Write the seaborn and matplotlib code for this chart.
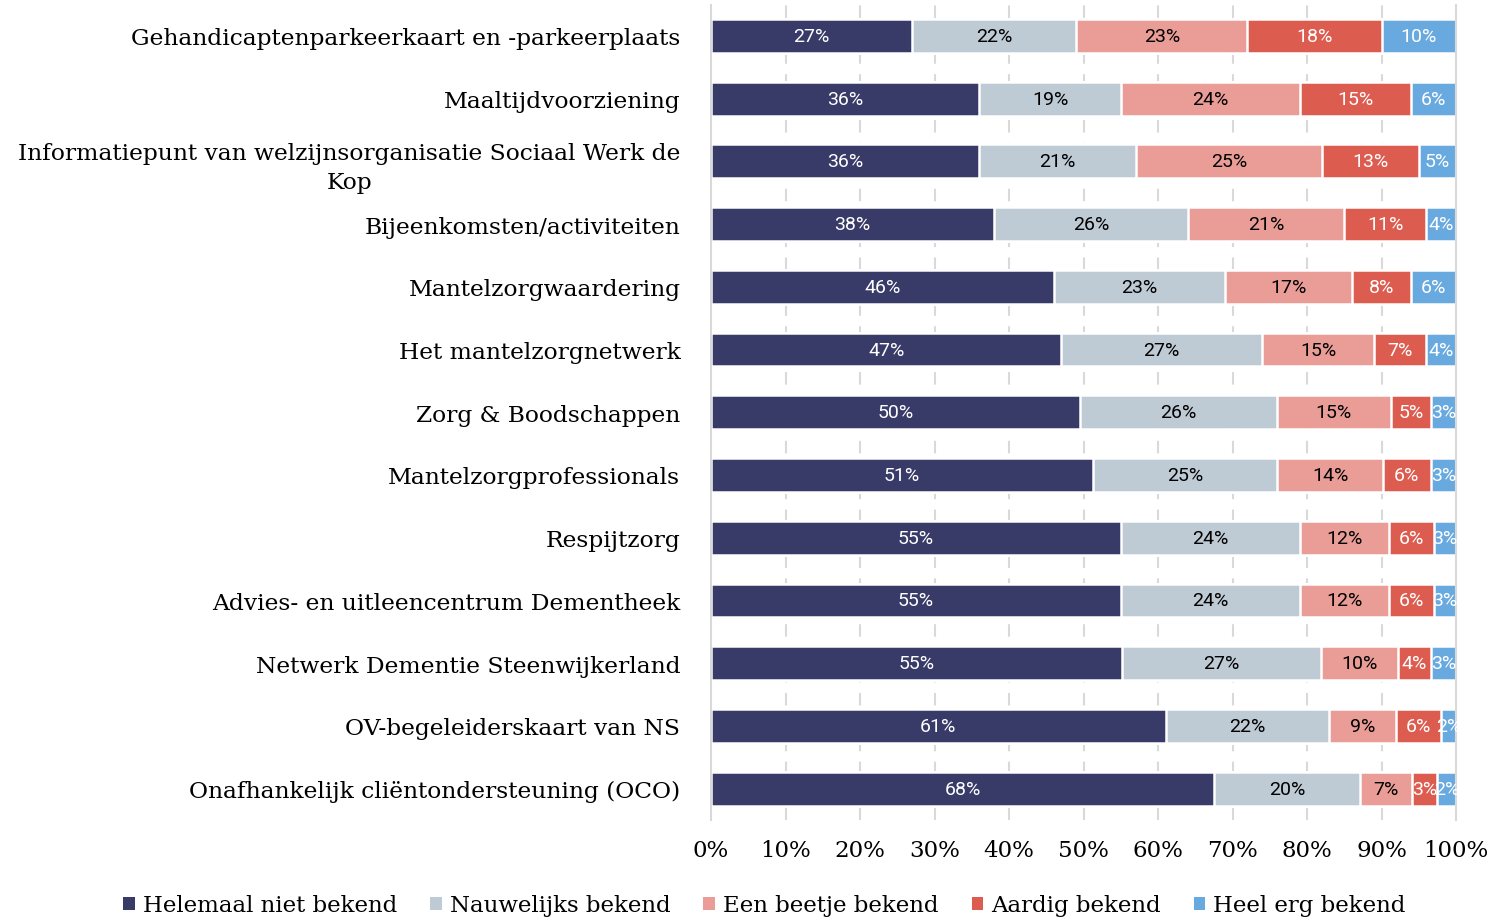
import numpy as np
import pandas as pd
import matplotlib.pyplot as plt
import seaborn as sns
from matplotlib.patches import Patch

# Data (percentages per service)
categories = [
    "Gehandicaptenparkeerkaart en -parkeerplaats",
    "Maaltijdvoorziening",
    "Informatiepunt van welzijnsorganisatie Sociaal Werk de\nKop",
    "Bijeenkomsten/activiteiten",
    "Mantelzorgwaardering",
    "Het mantelzorgnetwerk",
    "Zorg & Boodschappen",
    "Mantelzorgprofessionals",
    "Respijtzorg",
    "Advies- en uitleencentrum Dementheek",
    "Netwerk Dementie Steenwijkerland",
    "OV-begeleiderskaart van NS",
    "Onafhankelijk cliëntondersteuning (OCO)",
]
helemaal_niet = [27, 36, 36, 38, 46, 47, 49.5, 51.3, 55, 55, 55.2, 61, 67.5]
nauwelijks = [22, 19, 21, 26, 23, 27, 26.4, 24.7, 24, 24, 26.7, 22, 19.6]
een_beetje = [23, 24, 25, 21, 17, 15, 15.4, 14.2, 12, 12, 10.3, 9, 7.0]
aardig = [18, 15, 13, 11, 8, 7, 5.4, 6.4, 6, 6, 4.4, 6, 3.4]
heel_erg = [10, 6, 5, 4, 6, 4, 3.3, 3.4, 3, 3, 3.4, 2, 2.5]
series_names = ["Helemaal niet bekend", "Nauwelijks bekend", "Een beetje bekend",
                "Aardig bekend", "Heel erg bekend"]
colors = ["#383A68", "#BECAD4", "#EA9D97", "#DD5C50", "#68AADF"]
text_colors = ["white", "black", "black", "white", "white"]

df = pd.DataFrame({
    "categorie": categories,
    series_names[0]: helemaal_niet,
    series_names[1]: nauwelijks,
    series_names[2]: een_beetje,
    series_names[3]: aardig,
    series_names[4]: heel_erg,
})
vals = df[series_names].to_numpy(dtype=float)
cum = vals.cumsum(axis=1)

serif = ["DejaVu Serif"]
sans = ["Roboto", "DejaVu Sans"]

sns.set_theme(style="white")
fig = plt.figure(figsize=(14.96, 9.2), dpi=100)
ax = fig.add_axes([0.4753, 0.1076, 0.498, 0.8864])

# dashed vertical gridlines behind bars
for xv in range(10, 100, 10):
    ax.axvline(xv, color="#D9D9D9", lw=1.5, ls=(0, (6, 5)), zorder=0)

# stacked bars drawn as overlapping cumulative bars (largest first)
for i in range(len(series_names) - 1, -1, -1):
    sns.barplot(x=cum[:, i], y=df["categorie"], color=colors[i], orient="h",
                width=0.54, edgecolor="white", linewidth=1.8, ax=ax,
                saturation=1, zorder=2)

# segment labels
for r in range(len(categories)):
    for i in range(len(series_names)):
        left = cum[r, i] - vals[r, i]
        ax.text(left + vals[r, i] / 2, r, f"{vals[r, i]:.0f}%", ha="center",
                va="center", fontsize=14, color=text_colors[i], family=sans,
                zorder=3)

ax.set_xlim(0, 100)
ax.set_ylim(len(categories) - 0.5, -0.5)
ax.set_xticks(range(0, 101, 10))
ax.set_xticklabels([f"{t}%" for t in range(0, 101, 10)], family=serif,
                   fontsize=16.5, color="black")
ax.set_yticks(range(len(categories)))
ax.set_yticklabels(categories, family=serif, fontsize=16.8, color="black",
                   multialignment="center", linespacing=1.45)
ax.tick_params(axis="y", length=0, pad=22)
ax.tick_params(axis="x", length=0, pad=14)
ax.set_xlabel("")
ax.set_ylabel("")
for s in ["top", "bottom"]:
    ax.spines[s].set_visible(False)
for s in ["left", "right"]:
    ax.spines[s].set_color("#D9D9D9")
    ax.spines[s].set_linewidth(1.5)

handles = [Patch(facecolor=c, edgecolor="none") for c in colors]
leg = fig.legend(handles, series_names, loc="center", bbox_to_anchor=(0.511, 0.015),
                 ncol=5, frameon=False, handlelength=0.5, handleheight=0.5,
                 handletextpad=0.35, columnspacing=1.45,
                 prop={"family": serif, "size": 16.5})
for t in leg.get_texts():
    t.set_color("black")

fig.savefig("out.png", dpi=100)
